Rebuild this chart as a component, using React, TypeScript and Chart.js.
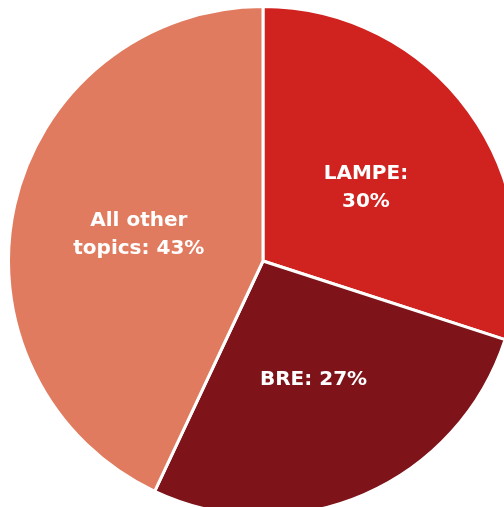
import React, { useEffect, useRef } from "react";
import { Chart, registerables } from "chart.js";

Chart.register(...registerables);

const categories = ["LAMPE", "BRE", "All other topics"];
const values = [30, 27, 43];
const labelLines = [["LAMPE:", "30%"], ["BRE: 27%"], ["All other", "topics: 43%"]];
const colors = ["#D0221E", "#7E141A", "#E07B5F"];

const labelPlugin = {
  id: "sliceLabels",
  afterDatasetsDraw(chart: any) {
    const ctx = chart.ctx;
    const meta = chart.getDatasetMeta(0);
    ctx.save();
    ctx.fillStyle = "#ffffff";
    ctx.font = "bold 20px 'DejaVu Sans', sans-serif";
    ctx.textAlign = "center";
    ctx.textBaseline = "middle";
    const lh = 28;
    meta.data.forEach((arc: any, i: number) => {
      const p = arc.tooltipPosition();
      const lines = labelLines[i];
      const start = p.y + 2 - ((lines.length - 1) * lh) / 2;
      lines.forEach((t, j) => ctx.fillText(t, p.x, start + j * lh));
    });
    ctx.restore();
  },
};

export default function App() {
  const ref = useRef<HTMLCanvasElement>(null);
  useEffect(() => {
    if (!ref.current) return;
    const chart = new Chart(ref.current, {
      type: "pie",
      data: {
        labels: categories,
        datasets: [
          {
            data: values,
            backgroundColor: colors,
            borderColor: "#ffffff",
            borderWidth: 3,
          },
        ],
      },
      options: {
        animation: false,
        responsive: false,
        maintainAspectRatio: false,
        layout: { padding: 0 },
        plugins: { legend: { display: false }, tooltip: { enabled: false } },
      },
      plugins: [labelPlugin],
    });
    return () => chart.destroy();
  }, []);
  return (
    <div
      style={{
        position: "fixed",
        left: 0,
        top: 0,
        width: 504,
        height: 507,
        overflow: "hidden",
        background: "#ffffff",
      }}
    >
      <canvas
        ref={ref}
        width={512}
        height={512}
        style={{ position: "absolute", left: 7, top: 5, width: 512, height: 512 }}
      />
    </div>
  );
}
